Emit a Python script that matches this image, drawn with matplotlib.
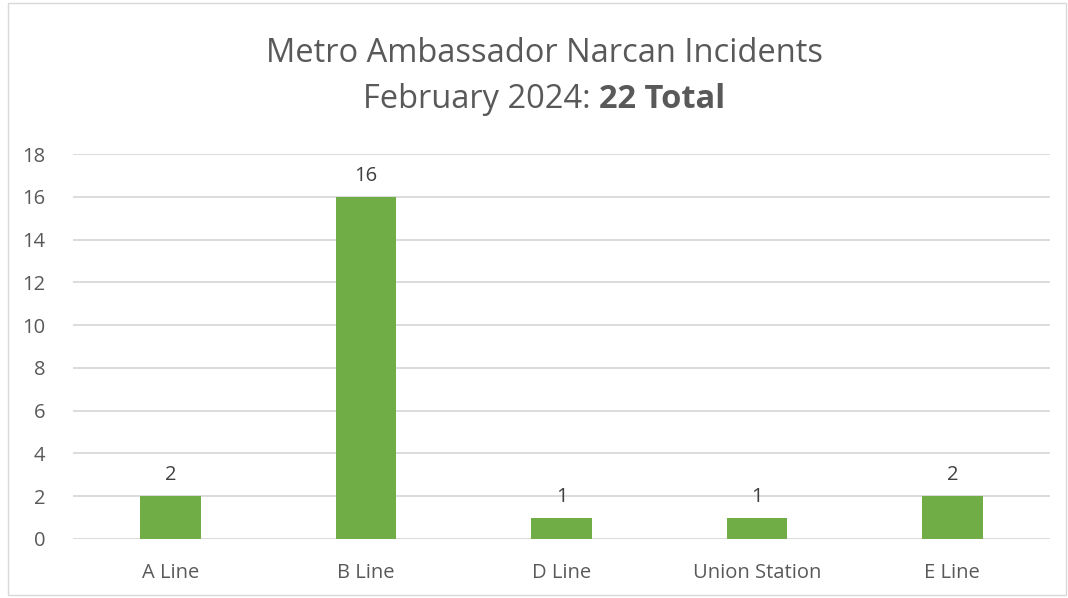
import numpy as np
import matplotlib.pyplot as plt
from matplotlib.patches import Rectangle

plt.rcParams['font.family'] = ['Open Sans', 'DejaVu Sans']

lines = ["A Line", "B Line", "D Line", "Union Station", "E Line"]
incidents = [2, 16, 1, 1, 2]
yticks = [0, 2, 4, 6, 8, 10, 12, 14, 16, 18]

W, H = 1068, 598
fig = plt.figure(figsize=(W / 100, H / 100), dpi=100)
fig.patch.set_facecolor("white")

# light frame around the chart area
fig.patches.append(Rectangle((8 / W, 3 / H), 1058 / W, 592 / H, transform=fig.transFigure,
                             fill=False, edgecolor="#d9d9d9", linewidth=1))

ax = fig.add_axes([73 / W, 1 - 539 / H, (1050 - 73) / W, (539 - 154) / H])
x = np.arange(len(lines))
ax.bar(x, incidents, width=0.31, color="#70AD47", zorder=3)
ax.set_xlim(-0.5, len(lines) - 0.5)
ax.set_ylim(0, 18)
ax.set_yticks(yticks)
ax.set_xticks(x)
ax.set_xticklabels(lines)
ax.grid(axis="y", color="#d9d9d9", linewidth=1.3, zorder=0)
for s in ax.spines.values():
    s.set_visible(False)
ax.tick_params(length=0, labelsize=14.5, colors="#595959")
ax.tick_params(axis="y", pad=20)
ax.tick_params(axis="x", pad=17)

for xi, v in zip(x, incidents):
    ax.annotate(str(v), (xi, v), xytext=(0, 8), textcoords="offset points",
                ha="center", va="bottom", fontsize=14.5, color="#404040")

cx = 544 / W
fig.text(cx, 1 - 54 / H, "Metro Ambassador Narcan Incidents", ha="center", va="center",
         fontsize=23.5, color="#595959")

# second title line with bold total
fig.canvas.draw()
r = fig.canvas.get_renderer()
y2 = 1 - 100 / H
t1 = fig.text(0, y2, "February 2024: ", ha="left", va="center", fontsize=23.5, color="#595959")
t2 = fig.text(0, y2, "22 Total", ha="left", va="center", fontsize=23.5, color="#595959",
              fontweight="bold")
w1 = t1.get_window_extent(r).width / W
w2 = t2.get_window_extent(r).width / W
start = cx - (w1 + w2) / 2
t1.set_x(start)
t2.set_x(start + w1)

fig.savefig("out.png", dpi=100)
